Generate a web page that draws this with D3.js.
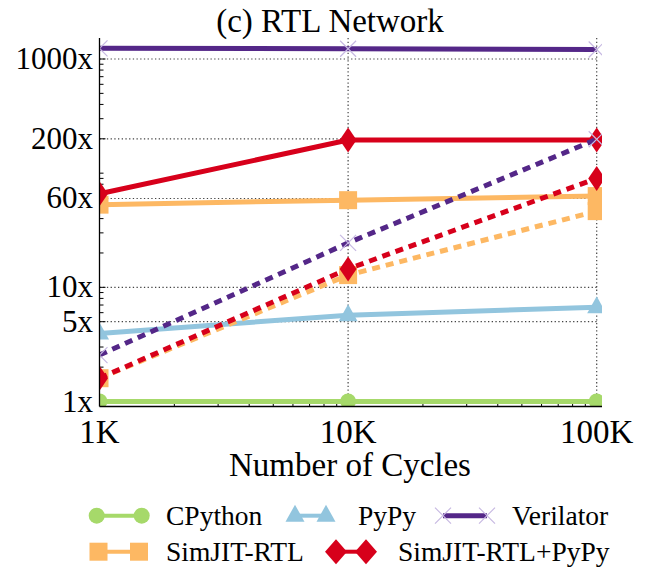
<!DOCTYPE html>
<html>
<head>
<meta charset="utf-8">
<script src="https://cdn.jsdelivr.net/npm/d3@7"></script>
</head>
<body style="margin:0; font-family: 'Liberation Serif';">
<div id="chart"></div>
<script>
/* **************************************************************************
 * Speedup vs. number of simulated cycles, RTL network model.
 * Solid lines are steady-state speedup, dotted lines include the
 * compile / warm-up overhead.
 * **************************************************************************/

// x values (number of cycles) and their labels
var cycles = [1000, 10000, 100000];
var cycleLabels = ["1K", "10K", "100K"];

// y tick values and labels
var speedTicks = [1, 5, 10, 60, 200, 1000];
var speedLabels = ["1x", "5x", "10x", "60x", "200x", "1000x"];

// steady state speedup (solid)
var cpython = [1, 1, 1];
var pypy = [3.95, 5.7, 6.7];
var verilator = [1240, 1230, 1210];
var simjit = [53, 58, 63];
var simjitPypy = [66, 195, 195];

// speedup including overhead (dotted)
var verilatorTotal = [2.55, 24.5, 198];
var simjitTotal = [1.6, 12.8, 46.5];
var simjitPypyTotal = [1.6, 14.5, 90];

var seriesNames = ["CPython", "PyPy", "Verilator", "SimJIT-RTL", "SimJIT-RTL+PyPy"];

var colors =
	{
		cpython: "#a6d96a",
		pypy: "#92c5de",
		verilator: "#542788",
		simjit: "#fdb863",
		simjitPypy: "#d7001b",
		cross: "#c7b9e2"
	};

// series drawn in this order, solids first then dotted
var series =
	[
		{ vals: cpython,         color: colors.cpython,    marker: "circle",   dash: null },
		{ vals: pypy,            color: colors.pypy,       marker: "triangle", dash: null },
		{ vals: verilator,       color: colors.verilator,  marker: "cross",    dash: null },
		{ vals: simjit,          color: colors.simjit,     marker: "square",   dash: null },
		{ vals: simjitPypy,      color: colors.simjitPypy, marker: "diamond",  dash: null },
		{ vals: verilatorTotal,  color: colors.verilator,  marker: "cross",    dash: "8,6" },
		{ vals: simjitTotal,     color: colors.simjit,     marker: "square",   dash: "8,6" },
		{ vals: simjitPypyTotal, color: colors.simjitPypy, marker: "diamond",  dash: "8,6" }
	];

var width = 646, height = 569;
var plot = { left: 99.5, right: 596.7, clipRight: 602, top: 38, bottom: 406.5 };

var svg = d3.select("#chart").append("svg")
	.attr("width", width)
	.attr("height", height)
	.style("display", "block")
	.style("font-family", "'Liberation Serif'");

var x = d3.scaleLog().domain([1000, 100000]).range([plot.left, plot.right]);
var y = d3.scaleLog().domain([1, 1000]).range([401.5, 59]);

/* **************************************************************************
 * drawMarker                                                               */
/**
 * Append a marker of the given kind centred at (cx, cy) to the group g.
 ****************************************************************************/
function drawMarker(g, kind, cx, cy, color, big)
{
	if (kind === "circle")
	{
		g.append("circle").attr("cx", cx).attr("cy", cy).attr("r", 8).attr("fill", color);
	}
	else if (kind === "triangle")
	{
		g.append("path")
			.attr("d", "M" + cx + "," + (cy - 11) + "L" + (cx + 9.5) + "," + (cy + 6) +
				"L" + (cx - 9.5) + "," + (cy + 6) + "Z")
			.attr("fill", color);
	}
	else if (kind === "square")
	{
		g.append("rect").attr("x", cx - 9).attr("y", cy - 9)
			.attr("width", 18).attr("height", 18).attr("fill", color);
	}
	else if (kind === "diamond")
	{
		var w = big ? 11 : 8.5, h = 12.5;
		g.append("path")
			.attr("d", "M" + cx + "," + (cy - h) + "L" + (cx + w) + "," + cy +
				"L" + cx + "," + (cy + h) + "L" + (cx - w) + "," + cy + "Z")
			.attr("fill", color);
	}
	else if (kind === "cross")
	{
		var a = 8;
		g.append("path")
			.attr("d", "M" + (cx - a) + "," + (cy - a) + "L" + (cx + a) + "," + (cy + a) +
				"M" + (cx - a) + "," + (cy + a) + "L" + (cx + a) + "," + (cy - a))
			.attr("stroke", colors.cross)
			.attr("stroke-width", 1.2)
			.attr("fill", "none");
	}
}

// ---- grid lines (dotted) ----
var grid = svg.append("g").attr("class", "grid")
	.attr("stroke", "#444")
	.attr("stroke-width", 1.2)
	.attr("stroke-dasharray", "1.3,2.4");

grid.selectAll("line.h").data(speedTicks).enter().append("line")
	.attr("x1", plot.left).attr("x2", plot.right)
	.attr("y1", function (d) { return y(d); })
	.attr("y2", function (d) { return y(d); });

grid.selectAll("line.v").data(cycles.slice(1)).enter().append("line")
	.attr("x1", function (d) { return x(d); })
	.attr("x2", function (d) { return x(d); })
	.attr("y1", plot.top).attr("y2", plot.bottom);

// ---- minor ticks ----
var yMinor = [];
[1, 10, 100, 1000].forEach(function (dec)
{
	for (var m = 1; m < 10; m++)
	{
		var v = m * dec;
		if (y(v) >= plot.top && y(v) <= plot.bottom && speedTicks.indexOf(v) < 0) { yMinor.push(v); }
	}
});
var xMinor = [];
[1000, 10000].forEach(function (dec)
{
	for (var m = 2; m < 10; m++) { xMinor.push(m * dec); }
});

var ticks = svg.append("g").attr("stroke", "#000").attr("stroke-width", 1);
ticks.selectAll("line.ym").data(yMinor).enter().append("line")
	.attr("x1", plot.left).attr("x2", plot.left + 4)
	.attr("y1", function (d) { return y(d); })
	.attr("y2", function (d) { return y(d); });
ticks.selectAll("line.yM").data(speedTicks).enter().append("line")
	.attr("x1", plot.left).attr("x2", plot.left + 6)
	.attr("y1", function (d) { return y(d); })
	.attr("y2", function (d) { return y(d); });
ticks.selectAll("line.xm").data(xMinor).enter().append("line")
	.attr("x1", function (d) { return x(d); })
	.attr("x2", function (d) { return x(d); })
	.attr("y1", plot.bottom).attr("y2", plot.bottom - 4);

// ---- series ----
svg.append("clipPath").attr("id", "plotClip")
	.append("rect")
	.attr("x", plot.left).attr("y", plot.top)
	.attr("width", plot.clipRight - plot.left)
	.attr("height", plot.bottom - plot.top);

var marks = svg.append("g").attr("clip-path", "url(#plotClip)");

var line = d3.line()
	.x(function (d, i) { return x(cycles[i]); })
	.y(function (d) { return y(d); });

series.forEach(function (s)
{
	var g = marks.append("g");
	g.append("path")
		.attr("d", line(s.vals))
		.attr("fill", "none")
		.attr("stroke", s.color)
		.attr("stroke-width", 5)
		.attr("stroke-dasharray", s.dash);
	s.vals.forEach(function (v, i)
	{
		drawMarker(g, s.marker, x(cycles[i]), y(v), s.color, false);
	});
});

// ---- axes lines ----
svg.append("line")
	.attr("x1", plot.left).attr("x2", plot.left)
	.attr("y1", plot.top).attr("y2", plot.bottom)
	.attr("stroke", "#000").attr("stroke-width", 1.3);
svg.append("line")
	.attr("x1", plot.left).attr("x2", plot.clipRight)
	.attr("y1", plot.bottom).attr("y2", plot.bottom)
	.attr("stroke", "#000").attr("stroke-width", 1.3);

// ---- text: one helper so every label gets the same font ----
function addText(sel, size)
{
	return sel.style("font-family", "'Liberation Serif'")
		.style("font-size", size + "px")
		.attr("fill", "#000");
}

// tick labels
addText(svg.selectAll("text.ylab").data(speedTicks).enter().append("text")
	.attr("x", 93)
	.attr("y", function (d) { return y(d) + 10; })
	.attr("text-anchor", "end")
	.text(function (d, i) { return speedLabels[i]; }), 31);

addText(svg.selectAll("text.xlab").data(cycles).enter().append("text")
	.attr("x", function (d) { return x(d); })
	.attr("y", 443)
	.attr("text-anchor", "middle")
	.text(function (d, i) { return cycleLabels[i]; }), 33);

addText(svg.append("text")
	.attr("x", 350).attr("y", 476)
	.attr("text-anchor", "middle")
	.text("Number of Cycles"), 33);

addText(svg.append("text")
	.attr("x", 330).attr("y", 32)
	.attr("text-anchor", "middle")
	.text("(c) RTL Network"), 33);

// ---- legend ----
var legendItems =
	[
		{ name: seriesNames[0], color: colors.cpython,    marker: "circle",   x1: 96.7, x2: 141.7, tx: 166, y: 515.7 },
		{ name: seriesNames[1], color: colors.pypy,       marker: "triangle", x1: 295,  x2: 326,   tx: 358, y: 515.7 },
		{ name: seriesNames[2], color: colors.verilator,  marker: "cross",    x1: 443,  x2: 487,   tx: 512, y: 515.7 },
		{ name: seriesNames[3], color: colors.simjit,     marker: "square",   x1: 98.5, x2: 139,   tx: 166, y: 551.7 },
		{ name: seriesNames[4], color: colors.simjitPypy, marker: "diamond",  x1: 336,  x2: 366,   tx: 398, y: 551.7 }
	];

var legend = svg.append("g").attr("class", "legend");
legendItems.forEach(function (it)
{
	var g = legend.append("g");
	g.append("line")
		.attr("x1", it.x1).attr("x2", it.x2)
		.attr("y1", it.y).attr("y2", it.y)
		.attr("stroke", it.color)
		.attr("stroke-width", it.marker === "cross" ? 5 : 4);
	drawMarker(g, it.marker, it.x1, it.y, it.color, true);
	drawMarker(g, it.marker, it.x2, it.y, it.color, true);
	addText(g.append("text")
		.attr("x", it.tx).attr("y", it.y + 9)
		.text(it.name), 27.5);
});
</script>
</body>
</html>
